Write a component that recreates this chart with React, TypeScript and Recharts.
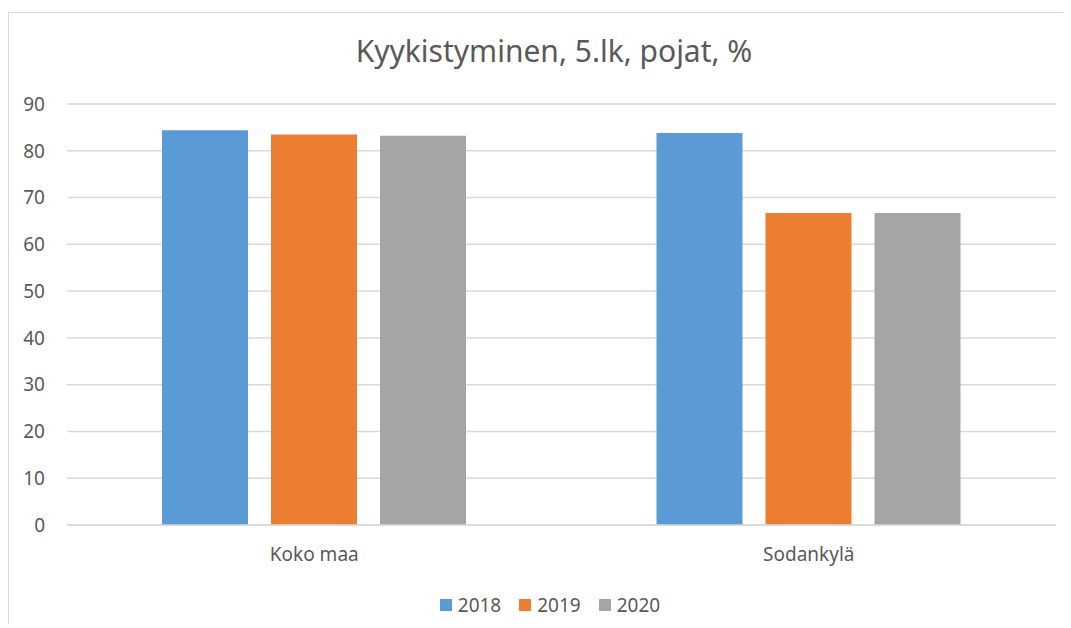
import { Bar, BarChart, CartesianGrid, Legend, XAxis, YAxis } from "recharts";

const categories = ["Koko maa", "Sodankylä"];
const years = ["2018", "2019", "2020"];
const values2018 = [84.4, 83.8];
const values2019 = [83.5, 66.7];
const values2020 = [83.2, 66.7];
const yTicks = [0, 10, 20, 30, 40, 50, 60, 70, 80, 90];
const colors = ["#5B9BD5", "#ED7D31", "#A5A5A5"];

const FONT = "'Noto Sans', sans-serif";
const TEXT = "#595959";

const data = categories.map((name, i) => ({
  name,
  "2018": values2018[i],
  "2019": values2019[i],
  "2020": values2020[i]
}));

function LegendRow({ payload }: { payload?: any[] }) {
  return (
    <div style={{ display: "flex", justifyContent: "center", paddingLeft: 20, fontFamily: FONT, fontSize: 19, color: TEXT }}>
      {(payload ?? []).map((p) => (
        <div key={p.value} style={{ display: "flex", alignItems: "center", margin: "0 9px" }}>
          <span style={{ width: 12, height: 12, background: p.color, marginRight: 6, display: "inline-block" }} />
          <span>{p.value}</span>
        </div>
      ))}
    </div>
  );
}

export default function App() {
  return (
    <div
      style={{
        position: "relative",
        top: 4,
        width: 1063,
        height: 616,
        borderTop: "1px solid #d9d9d9",
        borderLeft: "1px solid #d9d9d9",
        boxSizing: "border-box",
        background: "#fff"
      }}
    >
      <div
        style={{
          position: "absolute",
          top: 23,
          left: 14,
          width: 1062,
          textAlign: "center",
          fontFamily: FONT,
          fontSize: 30,
          lineHeight: 1,
          color: TEXT
        }}
      >
        Kyykistyminen, 5.lk, pojat, %
      </div>
      <BarChart
        width={1062}
        height={615}
        data={data}
        margin={{ top: 91, right: 15, bottom: 63, left: 0 }}
        barCategoryGap={95}
        barGap={23}
      >
        <CartesianGrid vertical={false} stroke="#d9d9d9" strokeWidth={1.5} />
        <XAxis
          dataKey="name"
          height={40}
          tickSize={0}
          tickMargin={23}
          axisLine={{ stroke: "#d9d9d9", strokeWidth: 1.5 }}
          tickLine={false}
          tick={{ fontFamily: FONT, fontSize: 19, fill: TEXT }}
        />
        <YAxis
          width={58}
          domain={[0, 90]}
          ticks={yTicks}
          tickSize={0}
          tickMargin={22}
          axisLine={false}
          tickLine={false}
          tick={{ fontFamily: FONT, fontSize: 19, fill: TEXT }}
        />
        <Legend
          layout="horizontal"
          verticalAlign="middle"
          align="center"
          wrapperStyle={{ top: 579, left: 0, width: 1062 }}
          content={<LegendRow />}
        />
        {years.map((y, i) => (
          <Bar key={y} dataKey={y} name={y} fill={colors[i]} isAnimationActive={false} />
        ))}
      </BarChart>
    </div>
  );
}
